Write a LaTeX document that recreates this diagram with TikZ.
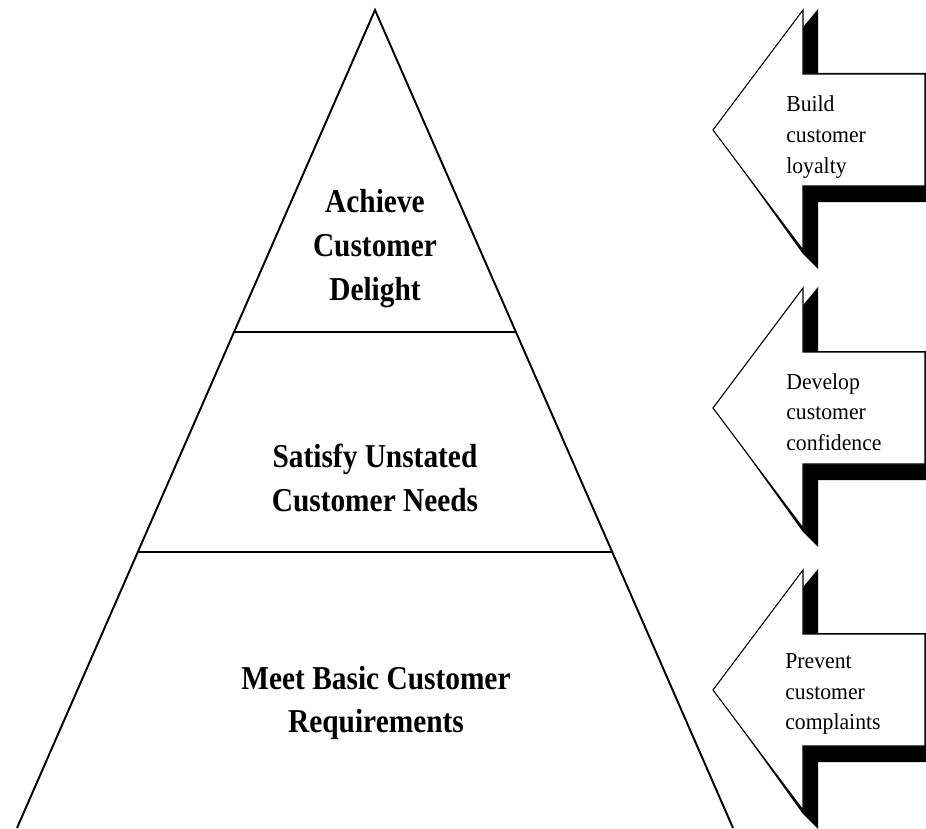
\documentclass[tikz,border=0pt]{standalone}
\usepackage{fontspec}
\setmainfont{Liberation Serif}
\newfontfamily\pyramidfont[FakeStretch=0.88]{Liberation Serif}
\newfontfamily\hintfont[FakeStretch=0.95]{Liberation Serif}
\usetikzlibrary{positioning}

\begin{document}
\begin{tikzpicture}[x=0.02cm, y=-0.02cm,
	tier/.style={line width=1.1pt},
	level/.style={font=\pyramidfont\bfseries\fontsize{19}{25}\selectfont, align=center, inner sep=0pt},
	shadowpart/.style={fill=black},
	arrowbox/.style={draw, fill=white, line width=0.6pt},
	hint/.style={font=\hintfont\fontsize{13}{17.5}\selectfont, align=left, anchor=west, inner sep=0pt}]

	\useasboundingbox (0,0) rectangle (926,828);

	% pyramid
	\coordinate (apex) at (375,10);
	\coordinate (bl) at (17,828);
	\coordinate (br) at (733,828);
	\draw[tier] (bl) -- (apex) -- (br);
	\draw[tier] (234,332) -- (516,332);
	\draw[tier] (138,552) -- (612,552);

	\node[level] (delight) at (375,249) {Achieve\\Customer\\Delight};
	\node[level] (unstated) at (375,478) {Satisfy Unstated\\Customer Needs};
	\node[level] (basic) at (376,703) {Meet Basic Customer\\Requirements};

	% arrows
	\begin{scope}[shift={(0,130)}]
		\fill[shadowpart] (716,3) -- (818,-121) -- (818,-57) -- (926,-57) -- (926,72) -- (818,72) -- (818,139) -- (803,124) -- cycle;
		\draw[arrowbox] (713,0) -- (803,-120) -- (803,-56) -- (925,-56) -- (925,56) -- (803,56) -- (803,120) -- cycle;
		\node[hint] (loyalty) at (786,7) {Build\\customer\\loyalty};
	\end{scope}

	\begin{scope}[shift={(0,408)}]
		\fill[shadowpart] (716,3) -- (818,-121) -- (818,-57) -- (926,-57) -- (926,72) -- (818,72) -- (818,139) -- (803,124) -- cycle;
		\draw[arrowbox] (713,0) -- (803,-120) -- (803,-56) -- (925,-56) -- (925,56) -- (803,56) -- (803,120) -- cycle;
		\node[hint] (confidence) at (786,4) {Develop\\customer\\confidence};
	\end{scope}

	\begin{scope}[shift={(0,690)}]
		\fill[shadowpart] (716,3) -- (818,-121) -- (818,-57) -- (926,-57) -- (926,72) -- (818,72) -- (818,139) -- (803,124) -- cycle;
		\draw[arrowbox] (713,0) -- (803,-120) -- (803,-56) -- (925,-56) -- (925,56) -- (803,56) -- (803,120) -- cycle;
		\node[hint] (complaints) at (785,4) {Prevent\\customer\\complaints};
	\end{scope}

\end{tikzpicture}
\end{document}
